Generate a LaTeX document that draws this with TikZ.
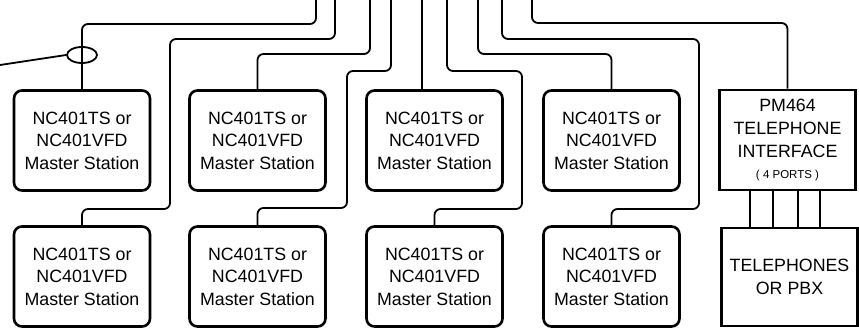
\documentclass[tikz,border=0pt]{standalone}
\usepackage{fontspec}
\setmainfont{Liberation Sans}
\usetikzlibrary{shapes.geometric}

\begin{document}
\begin{tikzpicture}[x=1pt,y=-1pt,
  station/.style={draw,line width=2.6pt,rounded corners=8pt,minimum width=136pt,
    minimum height=100pt,inner sep=0pt,align=center,font=\fontsize{17.8}{22.5}\selectfont},
  plainbox/.style={draw,line width=2.6pt,minimum width=136pt,minimum height=100pt,
    inner sep=0pt,align=center,font=\fontsize{17.8}{23}\selectfont},
  wire/.style={line width=1.8pt,rounded corners=6pt},
  port/.style={line width=2.6pt}]
  \useasboundingbox (0,0) rectangle (859,328);

  % Master stations, upper row
  \node[station] (m1) at (82,140.5) {NC401TS or\\NC401VFD\\Master Station};
  \node[station] (m2) at (257.5,140.5) {NC401TS or\\NC401VFD\\Master Station};
  \node[station] (m3) at (434.5,140.5) {NC401TS or\\NC401VFD\\Master Station};
  \node[station] (m4) at (611.5,140.5) {NC401TS or\\NC401VFD\\Master Station};

  % Master stations, lower row
  \node[station] (b1) at (82,276.5) {NC401TS or\\NC401VFD\\Master Station};
  \node[station] (b2) at (257.5,276.5) {NC401TS or\\NC401VFD\\Master Station};
  \node[station] (b3) at (434.5,276.5) {NC401TS or\\NC401VFD\\Master Station};
  \node[station] (b4) at (611.5,276.5) {NC401TS or\\NC401VFD\\Master Station};

  % Telephone interface and telephones
  \node[plainbox] (pm) at (787.5,140) {PM464\\TELEPHONE\\INTERFACE\\[-2pt]
    {\fontsize{11.5}{14}\selectfont ( 4 PORTS )}};
  \node[plainbox,minimum height=98pt] (tel) at (789.5,277) {TELEPHONES\\OR PBX};
  \foreach \px in {750,773,798,820} {
    \draw[port] (\px,0 |- pm.south) -- (\px,0 |- tel.north);
  }

  % Cable ends at the top edge
  \foreach \name/\px in {t1/316,t2/335,t3/370,t4/391,t5/422,t6/447,t7/478,t8/502,t9/532} {
    \coordinate (\name) at (\px,0);
  }

  % Cables
  \draw[wire] (t1) -- ++(0,24) -| (m1.north);
  \draw[wire] (t2) -- ++(0,39) -| (170,209) -| (b1.north);
  \draw[wire] (t3) -- ++(0,54) -| (m2.north);
  \draw[wire] (t4) -- ++(0,71) -| (347,208) -| (b2.north);
  \draw[wire] (t5) -- (t5 |- m3.north);
  \draw[wire] (t6) -- ++(0,71) -| (522,209) -| (b3.north);
  \draw[wire] (t7) -- ++(0,54) -| (m4.north);
  \draw[wire] (t8) -- ++(0,39) -| (699,209) -| (b4.north);
  \draw[wire] (t9) -- ++(0,23) -| (pm.north);

  % Cable tie and lead
  \node[draw,ellipse,line width=1.8pt,minimum width=30pt,minimum height=16pt,inner sep=0pt] (tie) at (82,55) {};
  \coordinate (lead) at (0,65);
  \draw[line width=1.8pt] (lead) -- (tie.west);
\end{tikzpicture}
\end{document}
